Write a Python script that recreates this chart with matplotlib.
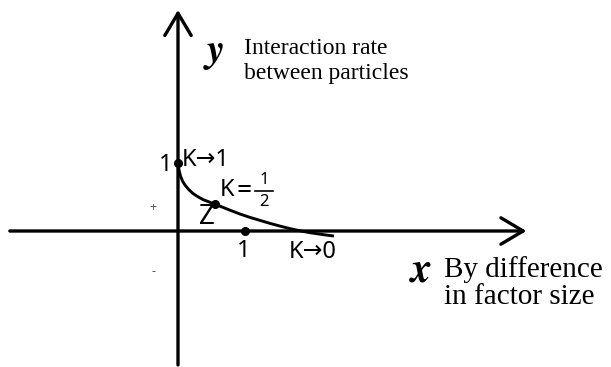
import matplotlib
matplotlib.use("Agg")
import matplotlib.pyplot as plt

# Interaction rate curve: y falls from 1 (K->1) through Z (K=1/2) to ~0 (K->0)
curve_x = [0, 0.015, 0.037, 0.067, 0.104, 0.157, 0.224, 0.299, 0.373, 0.463,
           0.552, 0.657, 0.776, 0.925, 1.075, 1.224, 1.373, 1.522, 1.672,
           1.821, 1.970, 2.149, 2.328]
curve_y = [1.0, 0.897, 0.809, 0.735, 0.676, 0.613, 0.551, 0.503, 0.462, 0.428,
           0.394, 0.353, 0.306, 0.25, 0.2, 0.156, 0.112, 0.072, 0.035,
           0.003, -0.025, -0.051, -0.074]

# Marked points
pt_x = [0, 0.552, 1.0]
pt_y = [1.0, 0.394, 0.0]

# Axis extents (data units)
x_axis = (-2.51, 5.2)
y_axis = (-1.97, 3.25)

W, H = 611, 367
fig = plt.figure(figsize=(W / 100, H / 100), dpi=100)
ax = fig.add_axes([0, 0, 1, 1])
ax.set_xlim(-178 / 67, (W - 178) / 67)
ax.set_ylim((231 - H) / 68, 231 / 68)
ax.axis("off")

def P(xp, yp):
    return ((xp - 178) / 67, (231 - yp) / 68)

arrow = dict(arrowstyle="->,head_length=1.6,head_width=0.95", lw=2.4, color="black",
             shrinkA=0, shrinkB=0)
ax.annotate("", xy=(x_axis[1], 0), xytext=(x_axis[0], 0), arrowprops=arrow)
ax.annotate("", xy=(0, y_axis[1]), xytext=(0, y_axis[0]), arrowprops=arrow)

ax.plot(curve_x, curve_y, color="black", lw=2.1, solid_capstyle="butt",
        solid_joinstyle="round")
ax.plot(pt_x, pt_y, "o", color="black", ms=5.5)

sans = ["Noto Sans", "DejaVu Sans"]
serif = "Liberation Serif"
plt.rcParams["mathtext.fontset"] = "stix"

# Axis names
ax.text(*P(214, 52), r"$\boldsymbol{y}$", fontsize=29, ha="center", va="center")
ax.text(*P(244, 54), "Interaction rate", family=serif, fontsize=17, ha="left", va="baseline")
ax.text(*P(244, 79), "between particles", family=serif, fontsize=17, ha="left", va="baseline")
ax.text(*P(421, 270), r"$\boldsymbol{x}$", fontsize=30, ha="center", va="center")
ax.text(*P(444, 277), "By difference", family=serif, fontsize=21, ha="left", va="baseline")
ax.text(*P(444, 304), "in factor size", family=serif, fontsize=21, ha="left", va="baseline")

# Point labels
ax.text(*P(166, 165), "1", family=sans, fontsize=17, ha="center", va="center")
ax.text(*P(182, 160), "K\u21921", family=sans, fontsize=17, ha="left", va="center")
ax.text(*P(220, 190), "K", family=sans, fontsize=17, ha="left", va="center")
ax.text(*P(244, 191), "=", family=sans, fontsize=19, ha="center", va="center")
ax.text(*P(264, 180), "1", family=sans, fontsize=12, ha="center", va="center")
ax.text(*P(264, 202), "2", family=sans, fontsize=12, ha="center", va="center")
bx0, by = P(255, 191)
bx1, _ = P(273, 191)
ax.plot([bx0, bx1], [by, by], color="black", lw=1.2)
ax.text(*P(207, 217), "Z", family=sans, fontsize=20, ha="center", va="center")
ax.text(*P(244, 251), "1", family=sans, fontsize=17, ha="center", va="center")
ax.text(*P(289, 252), "K\u21920", family=sans, fontsize=17, ha="left", va="center")

# Sign markers
ax.text(*P(153, 207), "+", family=sans, fontsize=9, color="#555555", ha="center", va="center")
ax.text(*P(153, 272), "-", family=sans, fontsize=9, color="#555555", ha="center", va="center")

fig.savefig("out.png", dpi=100, facecolor="white")
